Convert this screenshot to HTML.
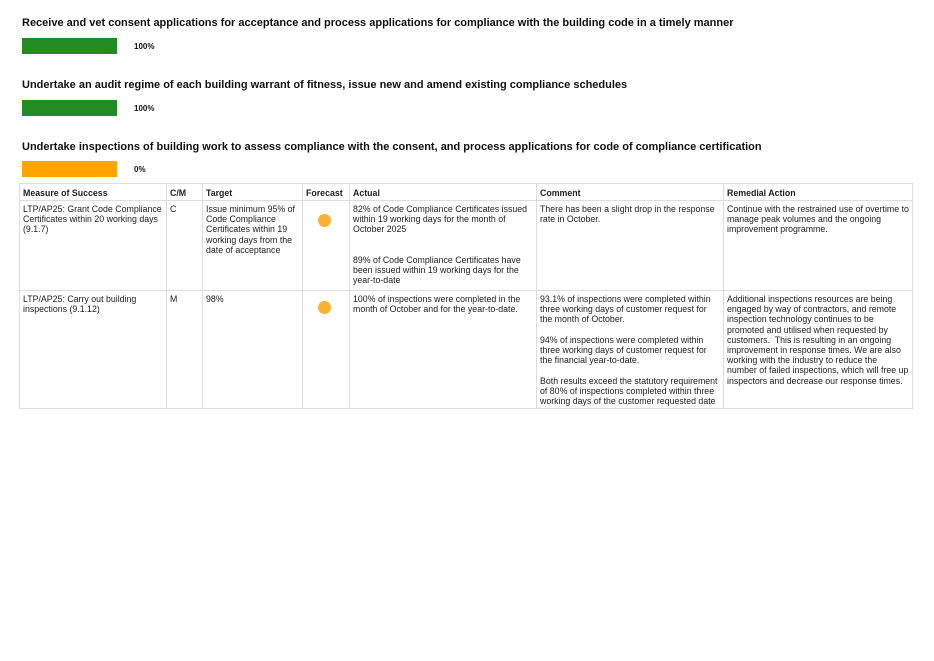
<!DOCTYPE html>
<html><head><style>
body{margin:0;width:934px;height:661px;background:#fff;font-family:"Liberation Sans",Arial,sans-serif;color:#111;position:relative;overflow:hidden}
.t{position:absolute;left:22px;font-size:11px;font-weight:bold;white-space:nowrap}
.bar{position:absolute;left:22px;width:95px;height:16px}
.p{position:absolute;left:134px;font-size:8px;font-weight:bold}
.c{position:absolute;box-sizing:border-box;border:1px solid #ddd;font-size:8.8px;line-height:10.2px;padding:3px 3px;color:#222}
.h{font-weight:bold;padding-top:4px}
.dot{position:absolute;width:13px;height:13px;border-radius:50%;background:#f9b233}
</style></head><body>
<div class="t" style="top:17px">Receive and vet consent applications for acceptance and process applications for compliance with the building code in a timely manner</div>
<div class="bar" style="top:38px;background:#238b23"></div><div class="p" style="top:42px">100%</div>
<div class="t" style="top:79px">Undertake an audit regime of each building warrant of fitness, issue new and amend existing compliance schedules</div>
<div class="bar" style="top:100px;background:#238b23"></div><div class="p" style="top:104px">100%</div>
<div class="t" style="top:141px">Undertake inspections of building work to assess compliance with the consent, and process applications for code of compliance certification</div>
<div class="bar" style="top:161px;background:#ffa500"></div><div class="p" style="top:165px">0%</div>

<div class="c h" style="left:19px;top:183px;width:148px;height:18px">Measure of Success</div>
<div class="c h" style="left:166px;top:183px;width:37px;height:18px">C/M</div>
<div class="c h" style="left:202px;top:183px;width:101px;height:18px">Target</div>
<div class="c h" style="left:302px;top:183px;width:48px;height:18px">Forecast</div>
<div class="c h" style="left:349px;top:183px;width:188px;height:18px">Actual</div>
<div class="c h" style="left:536px;top:183px;width:188px;height:18px">Comment</div>
<div class="c h" style="left:723px;top:183px;width:190px;height:18px">Remedial Action</div>

<div class="c" style="left:19px;top:200px;width:148px;height:91px">LTP/AP25: Grant Code Compliance Certificates within 20 working days (9.1.7)</div>
<div class="c" style="left:166px;top:200px;width:37px;height:91px">C</div>
<div class="c" style="left:202px;top:200px;width:101px;height:91px">Issue minimum 95% of Code Compliance Certificates within 19 working days from the date of acceptance</div>
<div class="c" style="left:302px;top:200px;width:48px;height:91px"></div>
<div class="dot" style="left:318px;top:214px"></div>
<div class="c" style="left:349px;top:200px;width:188px;height:91px">82% of Code Compliance Certificates issued within 19 working days for the month of October 2025<br><br><br>89% of Code Compliance Certificates have been issued within 19 working days for the year-to-date</div>
<div class="c" style="left:536px;top:200px;width:188px;height:91px">There has been a slight drop in the response rate in October.</div>
<div class="c" style="left:723px;top:200px;width:190px;height:91px">Continue with the restrained use of overtime to manage peak volumes and the ongoing improvement programme.</div>

<div class="c" style="left:19px;top:290px;width:148px;height:119px">LTP/AP25: Carry out building inspections (9.1.12)</div>
<div class="c" style="left:166px;top:290px;width:37px;height:119px">M</div>
<div class="c" style="left:202px;top:290px;width:101px;height:119px">98%</div>
<div class="c" style="left:302px;top:290px;width:48px;height:119px"></div>
<div class="dot" style="left:318px;top:301px"></div>
<div class="c" style="left:349px;top:290px;width:188px;height:119px">100% of inspections were completed in the month of October and for the year-to-date.</div>
<div class="c" style="left:536px;top:290px;width:188px;height:119px">93.1% of inspections were completed within three working days of customer request for the month of October.<br><br>94% of inspections were completed within three working days of customer request for the financial year-to-date.<br><br>Both results exceed the statutory requirement of 80% of inspections completed within three working days of the customer requested date</div>
<div class="c" style="left:723px;top:290px;width:190px;height:119px">Additional inspections resources are being engaged by way of contractors, and remote inspection technology continues to be promoted and utilised when requested by customers.&nbsp; This is resulting in an ongoing improvement in response times. We are also working with the industry to reduce the number of failed inspections, which will free up inspectors and decrease our response times.</div>
</body></html>
